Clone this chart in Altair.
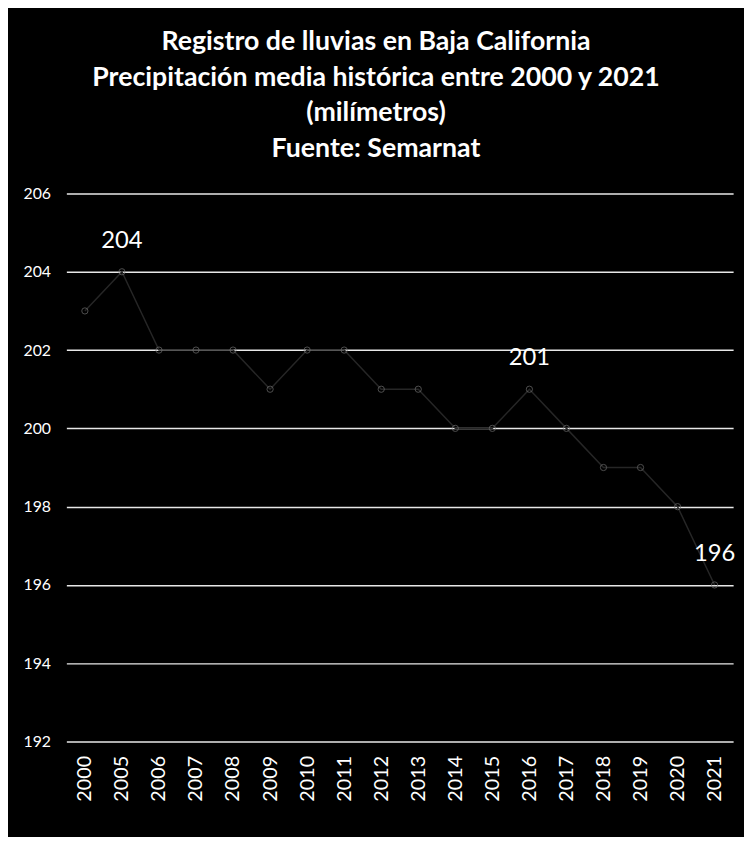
import altair as alt
import pandas as pd

years = ["2000", "2005", "2006", "2007", "2008", "2009", "2010", "2011", "2012",
         "2013", "2014", "2015", "2016", "2017", "2018", "2019", "2020", "2021"]
values = [203, 204, 202, 202, 202, 201, 202, 202, 201,
          201, 200, 200, 201, 200, 199, 199, 198, 196]
labelled = ["2005", "2016", "2021"]
y_ticks = [192, 194, 196, 198, 200, 202, 204, 206]

df = pd.DataFrame({"anio": years, "mm": values})
df["etiqueta"] = [str(v) if a in labelled else "" for a, v in zip(years, values)]

x_enc = alt.X("anio:O", sort=years, title=None,
              axis=alt.Axis(labelAngle=-90, labelColor="white", labelFont="Lato",
                            labelFontSize=20, labelPadding=14, ticks=False,
                            domain=False, grid=False, labelBaseline="middle",
                            labelAlign="right"),
              scale=alt.Scale(paddingInner=0, paddingOuter=0.5))
y_enc = alt.Y("mm:Q", title=None,
              scale=alt.Scale(domain=[192, 206], nice=False, zero=False),
              axis=alt.Axis(values=y_ticks, labelColor="white", labelFont="Lato",
                            labelFontSize=16, labelPadding=16, ticks=False,
                            domain=False, grid=True, gridColor="#e8e8e8",
                            gridWidth=1.5, gridOpacity=1))

base = alt.Chart(df)

line = base.mark_line(color="#262626", strokeWidth=1.5).encode(x=x_enc, y=y_enc)
pts = base.mark_point(filled=False, color="#707070", size=40, strokeWidth=1).encode(
    x=x_enc, y="mm:Q")
txt = base.mark_text(color="white", font="Lato", fontSize=24, dy=-31,
                     baseline="middle").encode(
    x=x_enc, y="mm:Q", text="etiqueta:N")

chart = alt.layer(line, pts, txt).properties(
    width=674, height=554,
    background="black",
    padding={"left": 59, "top": 183, "right": 11, "bottom": 92},
    autosize=alt.AutoSizeParams(type="none"),
    title=alt.TitleParams(
        text=["Registro de lluvias en Baja California",
              "Precipitación media histórica  entre 2000 y 2021",
              "(milímetros)",
              "Fuente: Semarnat"],
        color="white", font="Lato", fontSize=27, fontWeight="bold",
        lineHeight=36, anchor="middle", dx=-24, offset=23),
).configure_view(stroke=None)

chart.save("out.html", embed_options={"renderer": "svg", "actions": False})
